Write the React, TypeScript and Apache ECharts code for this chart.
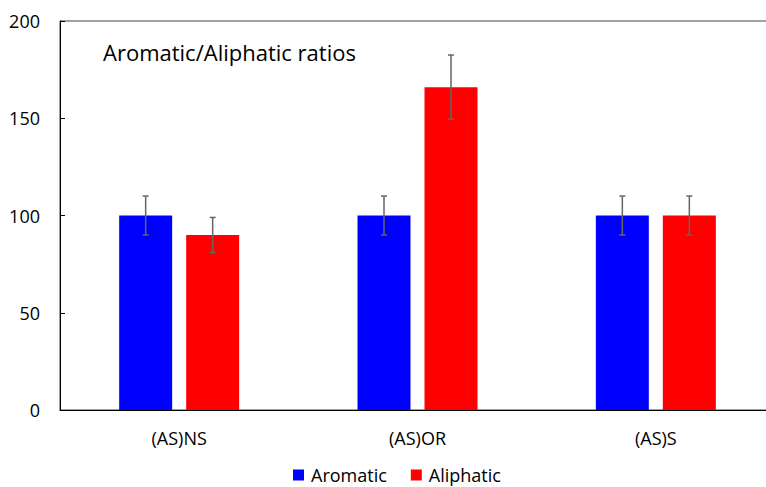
import React, { useEffect, useRef } from "react";
import * as echarts from "echarts";

const categories = ["(AS)NS", "(AS)OR", "(AS)S"];
const aromatic = [100, 100, 100];
const aromaticErr = [10, 10, 10];
const aliphatic = [90, 166, 100];
const aliphaticErr = [9, 16.5, 10];
const yTicks = [0, 50, 100, 150, 200];

const BAR_W = 53;
const BAR_GAP = 14;
const FONT = "'Open Sans', 'Noto Sans', sans-serif";

function errorSeries(name: string, vals: number[], errs: number[], sign: number) {
  return {
    type: "custom",
    name: name + " err",
    z: 10,
    renderItem: (params: any, api: any) => {
      const idx = api.value(0);
      const v = api.value(1);
      const e = api.value(2);
      const base = api.coord([idx, v]);
      const x = base[0] + sign * (BAR_GAP / 2 + BAR_W / 2);
      const top = api.coord([idx, v + e])[1];
      const bot = api.coord([idx, v - e])[1];
      const style = { stroke: "#666666", lineWidth: 1.5 };
      return {
        type: "group",
        children: [
          { type: "line", shape: { x1: x, y1: top, x2: x, y2: bot }, style },
          { type: "line", shape: { x1: x - 3, y1: top, x2: x + 3, y2: top }, style },
          { type: "line", shape: { x1: x - 3, y1: bot, x2: x + 3, y2: bot }, style },
        ],
      };
    },
    data: vals.map((v, i) => [i, v, errs[i]]),
    silent: true,
    tooltip: { show: false },
  };
}

export default function App() {
  const ref = useRef<HTMLDivElement>(null);
  useEffect(() => {
    const chart = echarts.init(ref.current!, null, { renderer: "svg" });
    chart.setOption({
      animation: false,
      backgroundColor: "#fff",
      textStyle: { fontFamily: FONT },
      grid: {
        left: 60,
        top: 21,
        width: 715,
        height: 389,
        show: true,
        borderColor: "#444",
        borderWidth: 1,
        containLabel: false,
      },
      title: {
        text: "Aromatic/Aliphatic ratios",
        left: 103,
        top: 41,
        padding: 0,
        textStyle: { fontFamily: FONT, fontSize: 22, fontWeight: "normal", color: "#000" },
      },
      legend: {
        top: 466,
        left: 293,
        padding: 0,
        itemWidth: 11,
        itemHeight: 11,
        itemGap: 24,
        icon: "rect",
        data: ["Aromatic", "Aliphatic"],
        textStyle: { fontFamily: FONT, fontSize: 18, color: "#000", padding: [0, 0, 0, 2] },
      },
      xAxis: {
        type: "category",
        data: categories,
        axisLine: { show: true, lineStyle: { color: "#000", width: 1 } },
        axisTick: { show: false },
        axisLabel: { fontFamily: FONT, fontSize: 18, color: "#000", margin: 19 },
      },
      yAxis: {
        type: "value",
        min: yTicks[0],
        max: yTicks[yTicks.length - 1],
        interval: 50,
        axisLine: { show: true, lineStyle: { color: "#000", width: 1 } },
        axisTick: { show: true, inside: true, length: 5, lineStyle: { color: "#000" } },
        splitLine: { show: false },
        axisLabel: { fontFamily: FONT, fontSize: 18, color: "#000", margin: 20 },
      },
      series: [
        {
          type: "bar",
          name: "Aromatic",
          data: aromatic,
          barWidth: BAR_W,
          barGap: (BAR_GAP / BAR_W) * 100 + "%",
          itemStyle: { color: "#0000ff" },
        },
        {
          type: "bar",
          name: "Aliphatic",
          data: aliphatic,
          barWidth: BAR_W,
          itemStyle: { color: "#ff0000" },
        },
        errorSeries("Aromatic", aromatic, aromaticErr, -1),
        errorSeries("Aliphatic", aliphatic, aliphaticErr, 1),
      ],
    });
    return () => chart.dispose();
  }, []);
  return (
    <div style={{ width: 766, height: 487, position: "absolute", left: 0, top: 0, overflow: "hidden" }}>
      <div ref={ref} style={{ width: 800, height: 487 }} />
    </div>
  );
}
